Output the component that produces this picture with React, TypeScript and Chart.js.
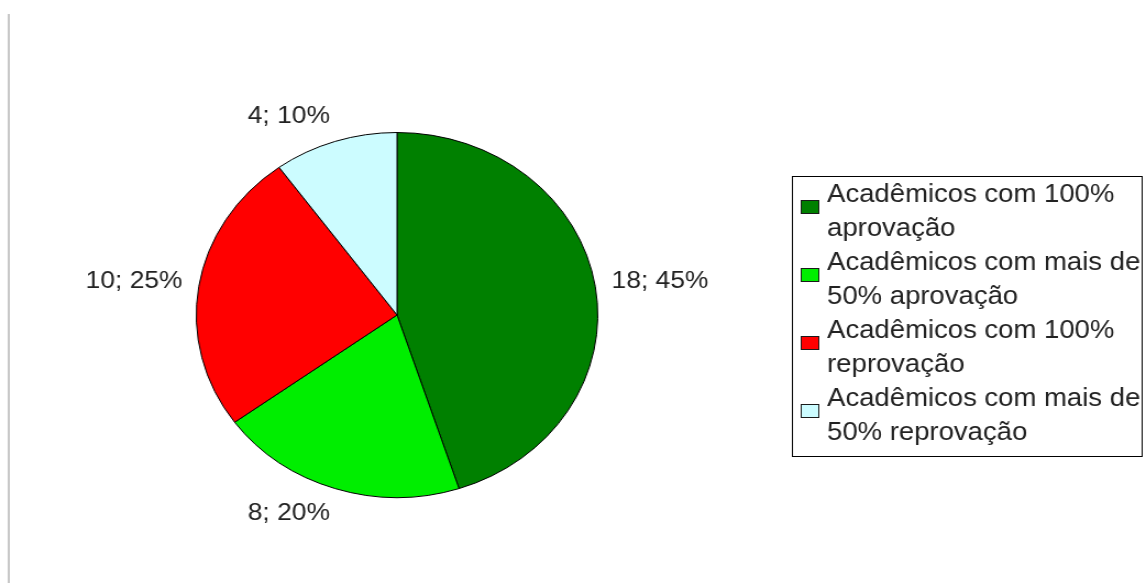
import React, { useEffect, useRef } from "react";
import { Chart, registerables } from "chart.js";

Chart.register(...registerables);

// ---- data ----
const legendLabels: string[][] = [
  ["Acadêmicos com 100%", "aprovação"],
  ["Acadêmicos com mais de", "50% aprovação"],
  ["Acadêmicos com 100%", "reprovação"],
  ["Acadêmicos com mais de", "50% reprovação"],
];
const values: number[] = [18, 8, 10, 4];
const sliceColors: string[] = ["#008000", "#00ee00", "#ff0000", "#ccfcff"];

const FONT = '"Liberation Sans", Arial, sans-serif';
const TEXT_COLOR = "#222222";

// the reference image is stretched horizontally by this factor
const STRETCH = 1.1;
const OUT_W = 1146;
const OUT_H = 583;
const W = Math.round(OUT_W / STRETCH);
const H = OUT_H;

const framePlugin = {
  id: "frameLine",
  beforeDraw(chart: any) {
    const ctx = chart.ctx;
    ctx.save();
    ctx.fillStyle = "#ffffff";
    ctx.fillRect(0, 0, chart.width, chart.height);
    ctx.fillStyle = "#c8c8c8";
    ctx.fillRect(7, 14, 2, chart.height - 14);
    ctx.restore();
  },
};

const sliceLabelPlugin = {
  id: "sliceLabels",
  afterDatasetsDraw(chart: any) {
    const ctx = chart.ctx;
    const meta = chart.getDatasetMeta(0);
    const data: number[] = chart.data.datasets[0].data;
    const total = data.reduce((a, b) => a + b, 0);
    ctx.save();
    ctx.font = `24px ${FONT}`;
    ctx.fillStyle = TEXT_COLOR;
    meta.data.forEach((arc: any, i: number) => {
      const p = arc.getProps(["x", "y", "startAngle", "endAngle", "outerRadius"], true);
      const mid = (p.startAngle + p.endAngle) / 2;
      const r = p.outerRadius + 15;
      const c = Math.cos(mid);
      const s = Math.sin(mid);
      const ax = p.x + c * r;
      let ay = p.y + s * r;
      let align: CanvasTextAlign = "center";
      if (c > 0.1) align = "left";
      else if (c < -0.1) align = "right";
      if (s < -0.3) ay -= 11;
      else if (s > 0.3) ay += 11;
      else ay -= 3;
      ctx.textAlign = align;
      ctx.textBaseline = "middle";
      const pct = Math.round((data[i] / total) * 100);
      ctx.fillText(`${data[i]}; ${pct}%`, ax, ay);
    });
    ctx.restore();
  },
};

const boxLegendPlugin = {
  id: "boxLegend",
  afterDraw(chart: any) {
    const ctx = chart.ctx;
    const labels: string[][] = chart.data.labels;
    const colors: string[] = chart.data.datasets[0].backgroundColor;
    const boxLeft = 720;
    const boxTop = 176;
    const boxRight = 1038;
    const boxBottom = 456;
    const lineH = 34;
    const firstY = 195;
    ctx.save();
    ctx.strokeStyle = "#000000";
    ctx.lineWidth = 1;
    ctx.strokeRect(boxLeft + 0.5, boxTop + 0.5, boxRight - boxLeft, boxBottom - boxTop);
    ctx.font = `25px ${FONT}`;
    ctx.textAlign = "left";
    ctx.textBaseline = "middle";
    let line = 0;
    labels.forEach((lines, i) => {
      const y0 = firstY + line * lineH;
      ctx.fillStyle = colors[i];
      ctx.fillRect(728, y0 + 5, 16, 13);
      ctx.strokeStyle = "#1a1a1a";
      ctx.strokeRect(728.5, y0 + 5.5, 16, 13);
      ctx.fillStyle = TEXT_COLOR;
      lines.forEach((t) => {
        ctx.fillText(t, 752, firstY + line * lineH);
        line++;
      });
    });
    ctx.restore();
  },
};

export default function App() {
  const ref = useRef<HTMLCanvasElement | null>(null);

  useEffect(() => {
    if (!ref.current) return;
    const cx = 361;
    const cy = 315;
    const half = 183;
    const chart = new Chart(ref.current, {
      type: "pie",
      data: {
        labels: legendLabels,
        datasets: [
          {
            data: values,
            backgroundColor: sliceColors,
            borderColor: "#000000",
            borderWidth: 1,
          },
        ],
      },
      options: {
        responsive: false,
        maintainAspectRatio: false,
        animation: false,
        devicePixelRatio: 1,
        layout: {
          padding: {
            left: cx - half,
            right: W - (cx + half),
            top: cy - half,
            bottom: H - (cy + half),
          },
        },
        plugins: {
          legend: { display: false },
          tooltip: { enabled: false },
        },
      } as any,
      plugins: [framePlugin, sliceLabelPlugin, boxLegendPlugin],
    });
    return () => chart.destroy();
  }, []);

  return (
    <div
      style={{
        position: "absolute",
        left: 0,
        top: 0,
        width: OUT_W,
        height: OUT_H,
        overflow: "hidden",
        background: "#fff",
      }}
    >
      <canvas
        ref={ref}
        width={W}
        height={H}
        style={{ display: "block", width: `${OUT_W}px`, height: `${OUT_H}px` }}
      />
    </div>
  );
}
